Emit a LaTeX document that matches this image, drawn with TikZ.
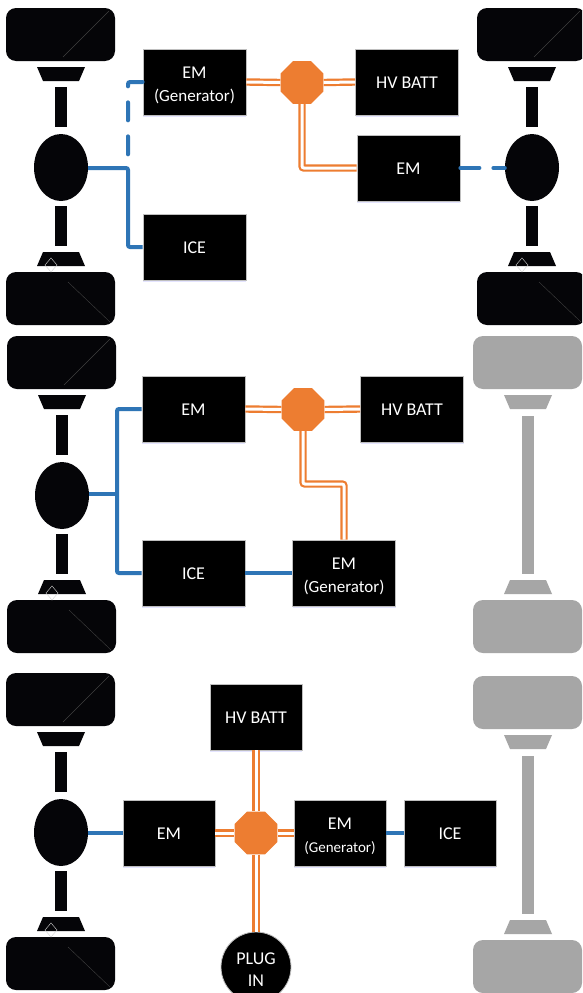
\documentclass[tikz,border=0pt]{standalone}
\usepackage{fontspec}
\setmainfont{Carlito}
\usetikzlibrary{shapes.geometric,shadows}
\definecolor{orangeline}{RGB}{237,125,49}
\definecolor{blueline}  {RGB}{46,117,182}
\definecolor{lightaxle} {RGB}{166,166,166}
\definecolor{darkaxle}  {RGB}{5,5,8}
\tikzset{
box/.style={rectangle,fill=black,draw=gray!50,line width=0.8pt,text=white,align=center,inner sep=0pt,
  minimum width=#1,minimum height=66pt,font=\fontsize{18}{23}\selectfont,
  execute at begin node={\rule{0pt}{13pt}},
  drop shadow={shadow xshift=0pt,shadow yshift=-2pt,fill=blue!30!white,opacity=.35}},
box/.default=103pt,
hub/.style={regular polygon,regular polygon sides=8,fill=orangeline,minimum size=46.5pt,inner sep=0pt},
plug/.style={circle,fill=black,draw=gray!50,line width=0.8pt,text=white,align=center,minimum size=70pt,inner sep=0pt,
  font=\fontsize{18}{22}\selectfont},
diff/.style={ellipse,fill=darkaxle,minimum width=54pt,minimum height=67pt,inner sep=0pt}, % To hold the drive connection
hv/.style={draw=orangeline,line width=2.2pt,double=white,double distance=3pt,rounded corners=2pt},
drive/.style={draw=blueline,line width=4pt,rounded corners=2pt},
drivedash/.style={drive,line cap=round,dash pattern=on 18pt off 16pt},
mark line/.style={draw=black!75,line width=0.4pt},
}
\newcommand{\tallrule}{\rule{0pt}{17.5pt}} % To lower two line labels
\newcommand{\gentext}{{\fontsize{17}{22}\selectfont(Generator)}}
% Tyres and stub parts shared by both kinds of axle
\newcommand{\wheels}[1]{
  \fill[#1,rounded corners=10pt] (0,0) rectangle (109,53);
  \fill[#1,rounded corners=10pt] (0,264) rectangle (109,317);
  \fill[#1] (31,59) -- (79,59) -- (73,73) -- (37,73) -- cycle;
  \fill[#1] (37,244) -- (73,244) -- (79,258) -- (31,258) -- cycle;
}
\begin{document}
\begin{tikzpicture}[x=1pt,y=-1pt]
\path[use as bounding box,clip] (0,0) rectangle (582,993);
\fill[white] (0,0) rectangle (582,993);

% Driven axles
\foreach \n/\x/\y in {a/6/8,b/477/8,c/7/336,d/6/673}{
  \begin{scope}[shift={(\x,\y)}]
    \wheels{darkaxle}
    \fill[darkaxle] (49,79) rectangle (61,119);
    \fill[darkaxle] (49,198) rectangle (61,238);
    \node[diff] (\n) at (55,159.5) {};
    \draw[mark line] (57,49) -- (103,3);
    \draw[mark line] (62,274) -- (104,314);
    \draw[draw=gray!35,line width=0.4pt] (39,257) -- (45,250) -- (51,257) -- (45,264) -- cycle;
  \end{scope}
}
% Idle axles
\foreach \x/\y in {473/336,473/676}{
  \begin{scope}[shift={(\x,\y)}]
    \wheels{lightaxle}
    \fill[lightaxle] (49,80) rectangle (61,238);
  \end{scope}
}

% Top layout
\node[box] (g1) at (194.5,82) {\tallrule EM\\\gentext};
\node[box] (i1) at (194.5,247) {ICE};
\node[box] (v1) at (407,82) {HV BATT};
\node[box] (e1) at (408.5,168) {EM};
\node[hub] (h1) at (302,82.5) {};
\coordinate (t1) at (128,168);
\draw[hv] (g1.east) -- (h1.west);
\draw[hv] (h1.east) -- (v1.west);
\draw[hv] (h1.south) |- (e1.west);
\draw[drive] (a.east |- t1) -- (t1) |- (i1.west);
\draw[drivedash] (g1.west) -| (t1);
\draw[drive,line cap=round,dash pattern=on 19pt off 14pt] (e1.east) -- (b.west |- e1.east);

% Middle layout
\node[box] (e2) at (193.5,409) {EM};
\node[box] (i2) at (193.5,573) {ICE};
\node[box] (v2) at (412,409) {HV BATT};
\node[box] (g2) at (344,573) {\tallrule EM\\\gentext};
\node[hub] (h2) at (303,409.5) {};
\coordinate (t2) at (117,494);
\draw[hv] (e2.east) -- (h2.west);
\draw[hv] (h2.east) -- (v2.west);
\draw[hv] (h2.south) |- (344,484) -- (g2.north);
\draw[drive] (c.east |- t2) -- (t2);
\draw[drive] (e2.west) -| (t2) |- (i2.west);
\draw[drive] (i2.east) -- (g2.west);

% Bottom layout
\node[box=92pt] (e3) at (169,833) {EM};
\node[box=92pt] (v3) at (256,717) {HV BATT};
\node[box=92pt] (g3) at (340,833) {\tallrule EM\\{\fontsize{15}{18}\selectfont(Generator)}};
\node[box=92pt] (i3) at (450,833) {ICE};
\node[hub] (h3) at (256,833) {};
\node[plug] (p3) at (256,967) {\tallrule PLUG\\IN};
\draw[hv] (e3.east) -- (h3.west);
\draw[hv] (h3.east) -- (g3.west);
\draw[hv] (v3.south) -- (h3.north);
\draw[hv] (h3.south) -- (p3.north);
\draw[drive] (d.east |- e3.west) -- (e3.west);
\draw[drive] (g3.east) -- (i3.west);
\end{tikzpicture}
\end{document}
